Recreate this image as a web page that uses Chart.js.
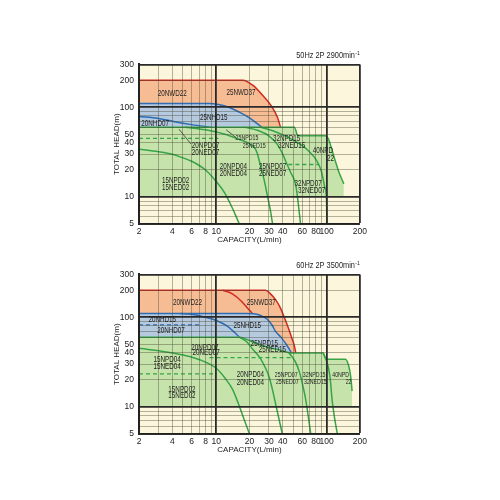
<!DOCTYPE html>
<html>
<head>
<meta charset="utf-8">
<script src="https://cdn.jsdelivr.net/npm/chart.js@4.4.1/dist/chart.umd.min.js"></script>
<style>
  html, body { margin: 0; padding: 0; background: #fff; }
  body { width: 500px; height: 500px; position: relative; overflow: hidden; }
  canvas { position: absolute; left: 100px; }
  #c50 { top: 45px; }
  #c60 { top: 255px; }
</style>
</head>
<body>
<canvas id="c50" width="270" height="210"></canvas>
<canvas id="c60" width="270" height="210"></canvas>
<script>
// axes
const xGrid = [2, 3, 4, 5, 6, 7, 8, 9, 10, 20, 30, 40, 50, 60, 70, 80, 90, 100, 200];
const xTickLabels = [2, 4, 6, 8, 10, 20, 30, 40, 60, 80, 100, 200];
const yGrid = [5, 6, 7, 8, 9, 10, 20, 30, 40, 50, 60, 70, 80, 90, 100, 200, 300];
const yTickLabels = [5, 10, 20, 30, 40, 50, 100, 200, 300];

// 50Hz curves  [capacity L/min, head m]
const nwd37_50 = [[2,200],[17.4,200],[21.4,176],[26.3,136],[31.3,105],[35.9,77],[38.5,58]];
const nhd15_50 = [[2,110],[8.7,110],[10.5,107],[13,100],[16.2,88],[20,76],[23,67],[26.3,59]];
const nhd07_50 = [[2,79],[3,75],[4.2,69],[6,64],[9,59.5]];
const npdArea_50 = [[2,60],[51,60],[55,48],[97,48],[104,44],[112,33],[120,25],[129,19],[143,14]];
const npd02_50 = [[2,34],[3,32],[4,30],[5,27.3],[6,25],[8,20],[10,14.9],[12,11],[14.1,7.4],[15.2,6],[16.2,5]];
const npd04_50 = [[5.2,60],[8,56],[12,50],[16,44],[19.5,40],[22,36],[23.5,31],[24.6,25],[27,16],[29,10.5],[31,7],[32.4,5]];
const npd07_50 = [[18,60],[24,55],[30,48],[36,38],[40,30],[42.6,25],[47,19],[52.4,13.7],[55,9],[58,5]];
const npd32_50 = [[25,60],[32,55],[42,48],[55,40],[68,33],[82,25],[90,19],[96,13],[99.7,9.3],[100.5,5]];
const ned07_50 = [[2,45],[10.5,45]];
const ned22_50 = [[45,23],[85,23]];

// 60Hz curves
const nwd37_60 = [[2,200],[28,200],[31,182],[34.6,156],[38,128],[41,102],[45,76],[48.5,58],[51,48],[52.5,40]];
const nwd22_60 = [[11.5,200],[14,182],[17,150],[19,128],[21.3,110]];
const nhd25_60 = [[2,110],[18.6,110],[24.6,106],[29,95],[32,82],[34.6,69],[38.5,60],[43,50],[48,40]];
const nhd15_60 = [[4.7,110],[6,108],[8,100],[10,92],[12.5,80],[14.6,68],[16.2,60]];
const nhd07_60 = [[2,82],[7.3,82]];
const npdArea_60 = [[2,60],[16.2,60],[20,55],[23,51],[30,46],[38,43],[47.5,40],[93,40],[98.5,34],[148,34],[158,29],[165,22],[170,15]];
const npd15_60 = [[2,45],[4,40],[7.1,33.6],[10,27],[12,21],[14.1,15.6],[17.4,8],[20,5]];
const npd20_60 = [[16.2,60],[19,53],[21.4,44],[25,35],[28,27],[30,22],[32.3,15.6],[35,10],[39.7,5]];
const npd25_60 = [[45.6,40],[52,32],[57,24],[61,17],[64.7,12],[68,8],[71.8,5]];
const npd32_60 = [[93,40],[98.5,34],[104,27],[108,20],[112,12],[118,7.5],[125,5]];
const ned02_60 = [[2,23.4],[10,23.4]];
const ned04_60 = [[8.7,35.5],[49,35.5]];

// model names at [capacity, head]
const labels_50 = [
  ['20NWD22', 4.0, 142], ['25NWD37', 16.8, 147], ['25NHD15', 9.5, 77], ['20NHD07', 2.8, 65],
  ['20NPD07', 8, 37], ['20NED07', 8, 30.8], ['32NPD15', 43.4, 45], ['32NED15', 48.2, 37],
  ['40NPD', 92.5, 32.5], ['22', 108.5, 26.9], ['20NPD04', 14.3, 22], ['20NED04', 14.3, 18],
  ['25NPD07', 32.4, 22], ['25NED07', 32.4, 18], ['15NPD02', 4.3, 15.3], ['15NED02', 4.3, 12.6],
  ['32NPD07', 67.8, 14.2], ['32NED07', 73, 11.8]
];
const smallLabels_50 = [['25NPD15', 19, 45], ['25NED15', 22.1, 37]];
const arrows_50 = [[[4.6, 57], [5.9, 39]], [[12.3, 56], [15.1, 46]]];
const labels_60 = [
  ['20NWD22', 5.5, 144], ['25NWD37', 25.6, 144], ['20NHD15', 3.25, 93], ['20NHD07', 3.9, 71],
  ['25NHD15', 19.1, 80], ['20NPD07', 7.9, 45.3], ['20NED07', 8.1, 39.8], ['25NPD15', 27.3, 51.4],
  ['25NED15', 32.2, 43.3], ['15NPD04', 3.6, 33.6], ['15NED04', 3.6, 28.3], ['15NPD02', 4.9, 15.6],
  ['15NED02', 4.9, 13.4], ['20NPD04', 20.4, 22.8], ['20NED04', 20.4, 18.9]
];
const smallLabels_60 = [
  ['25NPD07', 43, 22.8], ['25NED07', 44, 18.9], ['32NPD15', 77, 22.8], ['32NED15', 79, 18.9],
  ['40NPD', 134, 22.8], ['22', 158, 18.9]
];

const sans = "'Liberation Sans', Arial, sans-serif";
const RED = '#d52a20', BLUE = '#2c6db5', GREEN = '#36a447';
const ORANGE_FILL = '#f6bd95', BLUE_FILL = '#b5c9df', GREEN_FILL = '#c6e3ab';

const pts = arr => arr.map(([x, y]) => ({ x, y }));

function area(arr, fillColor, lineColor, order) {
  return {
    data: pts(arr), order,
    borderColor: lineColor, borderWidth: 1.5, backgroundColor: fillColor,
    fill: { value: 10 }, pointRadius: 0, cubicInterpolationMode: 'monotone'
  };
}

function curve(arr, color, order, dashed) {
  return {
    data: pts(arr), order,
    borderColor: color, borderWidth: dashed ? 1.3 : 1.5, borderDash: dashed ? [4, 3] : [],
    fill: false, pointRadius: 0, cubicInterpolationMode: 'monotone'
  };
}

const xMajor = [10, 100, 200];
const yMajor = [10, 100, 300];

function gridOpts(major) {
  return {
    z: 1, drawTicks: false,
    color: c => major.includes(c.tick.value) ? '#2a2a2a' : 'rgba(70,70,50,0.5)',
    lineWidth: c => major.includes(c.tick.value) ? 1.8 : 0.8
  };
}

function xScale() {
  return {
    type: 'logarithmic', min: 2, max: 200,
    afterBuildTicks: s => { s.ticks = xGrid.map(v => ({ value: v })); },
    afterFit: s => { s.height = 31; },
    ticks: {
      z: 1, autoSkip: false, maxRotation: 0, padding: 3, color: '#222',
      font: { family: sans, size: 8.5 },
      callback: v => xTickLabels.includes(v) ? String(v) : ''
    },
    grid: gridOpts(xMajor),
    border: { z: 1, color: '#222', width: 2 },
    title: { display: true, text: 'CAPACITY(L/min)', color: '#222',
      font: { family: sans, size: 8 }, padding: { top: 0, bottom: 10 } }
  };
}

function yScale() {
  return {
    type: 'logarithmic', min: 5, max: 300,
    afterBuildTicks: s => { s.ticks = yGrid.map(v => ({ value: v })); },
    afterFit: s => { s.width = 39; },
    ticks: {
      z: 1, autoSkip: false, padding: 5, color: '#222',
      font: { family: sans, size: 8.5 },
      callback: v => yTickLabels.includes(v) ? String(v) : ''
    },
    grid: gridOpts(yMajor),
    border: { z: 1, color: '#222', width: 2 },
    title: { display: true, text: 'TOTAL HEAD(m)', color: '#222',
      font: { family: sans, size: 8 }, padding: { top: 12, bottom: 0 } }
  };
}

// cream plot background
const paper = {
  id: 'paper',
  beforeDraw(chart) {
    const { ctx, chartArea: a } = chart;
    ctx.save();
    ctx.fillStyle = '#fcf7dc';
    ctx.fillRect(a.left, a.top, a.width, a.height);
    ctx.restore();
  }
};

// condensed text, like the catalogue lettering
function squeezed(ctx, text, px, py, sx) {
  ctx.save();
  ctx.translate(px, py);
  ctx.scale(sx, 1);
  ctx.fillText(text, 0, 0);
  ctx.restore();
}

// model names, pointer lines and the speed heading
const notes = {
  id: 'notes',
  afterDraw(chart, args, opts) {
    const { ctx, chartArea: a, scales: { x, y } } = chart;
    ctx.save();
    ctx.fillStyle = '#1e1e1e';
    ctx.textAlign = 'center';
    ctx.textBaseline = 'middle';
    ctx.font = '8.5px ' + sans;
    opts.labels.forEach(([t, vx, vy]) => squeezed(ctx, t, x.getPixelForValue(vx), y.getPixelForValue(vy), 0.74));
    ctx.font = '7.3px ' + sans;
    (opts.small || []).forEach(([t, vx, vy]) => squeezed(ctx, t, x.getPixelForValue(vx), y.getPixelForValue(vy), 0.72));

    ctx.strokeStyle = '#333';
    ctx.lineWidth = 0.8;
    (opts.arrows || []).forEach(([p, q]) => {
      ctx.beginPath();
      ctx.moveTo(x.getPixelForValue(p[0]), y.getPixelForValue(p[1]));
      ctx.lineTo(x.getPixelForValue(q[0]), y.getPixelForValue(q[1]));
      ctx.stroke();
    });

    ctx.textAlign = 'right';
    ctx.font = '6px ' + sans;
    const supW = ctx.measureText('-1').width * 0.85;
    squeezed(ctx, '-1', a.right, a.top - 11, 0.85);
    ctx.font = '9px ' + sans;
    squeezed(ctx, opts.head, a.right - supW - 0.5, a.top - 8.5, 0.82);
    ctx.restore();
  }
};

function build(id, datasets, noteOpts) {
  return new Chart(document.getElementById(id), {
    type: 'line',
    data: { datasets },
    options: {
      responsive: false,
      animation: false,
      events: [],
      layout: { padding: { top: 19.4, right: 9, left: 0, bottom: 0 } },
      plugins: { legend: { display: false }, tooltip: { enabled: false }, notes: noteOpts },
      scales: { x: xScale(), y: yScale() }
    },
    plugins: [paper, notes]
  });
}

build('c50', [
  area(nwd37_50, ORANGE_FILL, RED, 50),
  area(nhd15_50, BLUE_FILL, BLUE, 40),
  curve(nhd07_50, BLUE, 35),
  area(npdArea_50, GREEN_FILL, GREEN, 30),
  curve(npd02_50, GREEN, 10),
  curve(npd04_50, GREEN, 10),
  curve(npd07_50, GREEN, 10),
  curve(npd32_50, GREEN, 10),
  curve(ned07_50, GREEN, 10, true),
  curve(ned22_50, GREEN, 10, true)
], { labels: labels_50, small: smallLabels_50, arrows: arrows_50, head: '50Hz 2P 2900min' });

build('c60', [
  area(nwd37_60, ORANGE_FILL, RED, 50),
  curve(nwd22_60, RED, 45),
  area(nhd25_60, BLUE_FILL, BLUE, 40),
  curve(nhd15_60, BLUE, 35),
  curve(nhd07_60, BLUE, 35, true),
  area(npdArea_60, GREEN_FILL, GREEN, 30),
  curve(npd15_60, GREEN, 10),
  curve(npd20_60, GREEN, 10),
  curve(npd25_60, GREEN, 10),
  curve(npd32_60, GREEN, 10),
  curve(ned02_60, GREEN, 10, true),
  curve(ned04_60, GREEN, 10, true)
], { labels: labels_60, small: smallLabels_60, head: '60Hz 2P 3500min' });
</script>
</body>
</html>
